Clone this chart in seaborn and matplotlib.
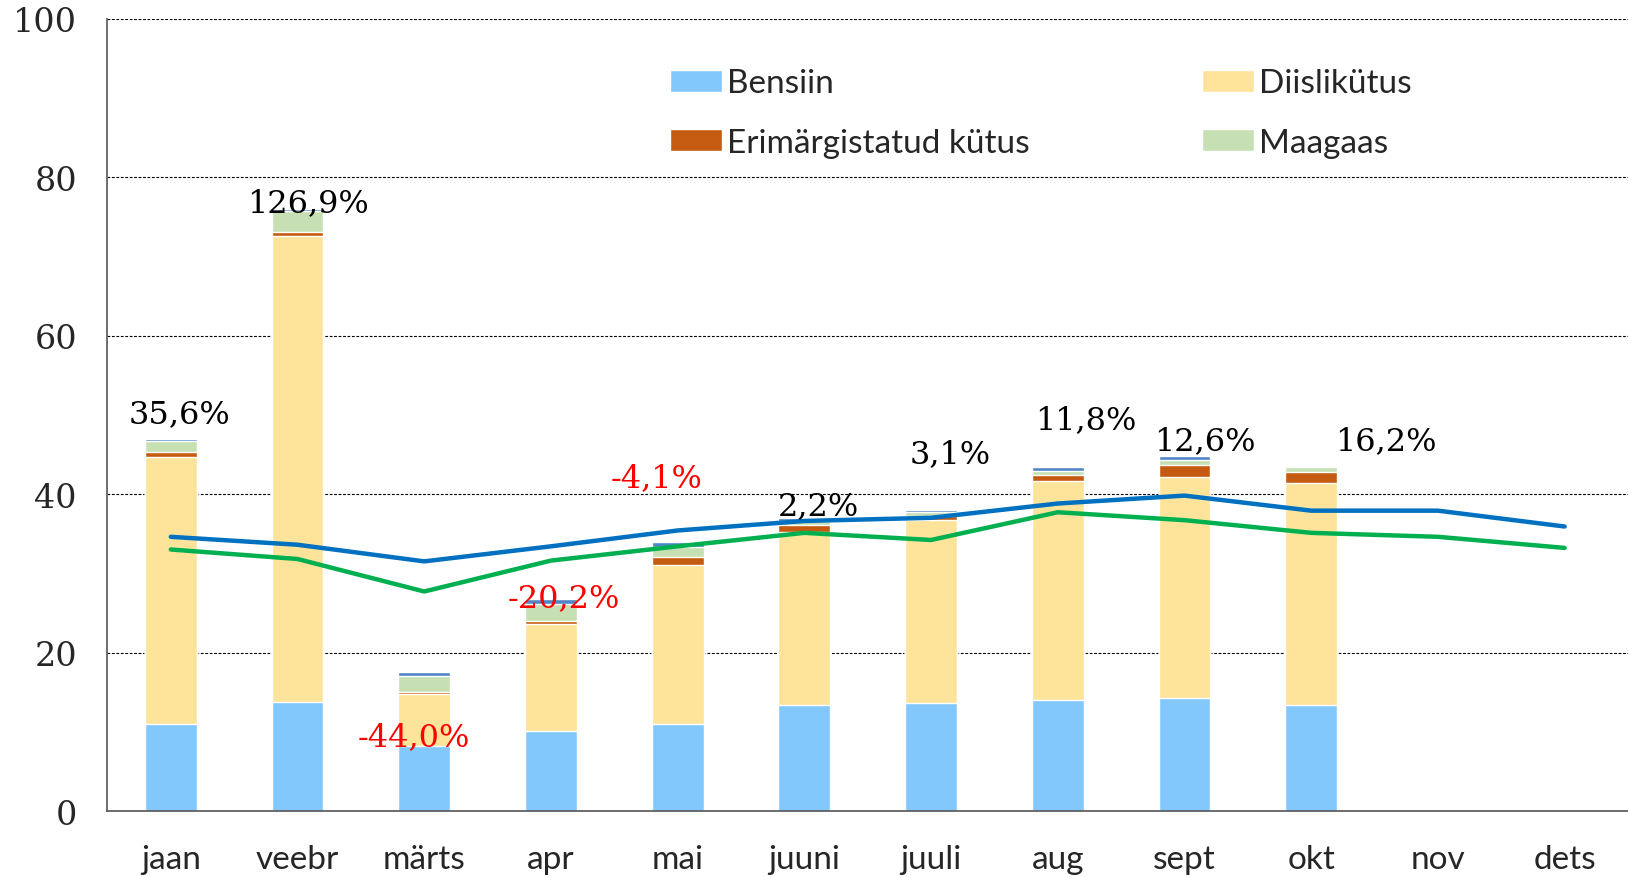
import numpy as np, pandas as pd
import matplotlib; matplotlib.use("Agg")
import matplotlib.pyplot as plt
import seaborn as sns

months   = ["jaan","veebr","märts","apr","mai","juuni","juuli","aug","sept","okt","nov","dets"]
bensiin  = [11.0, 13.8,  8.2, 10.1, 11.0, 13.4, 13.6, 14.0, 14.3, 13.4, np.nan, np.nan]
diisel   = [33.7, 58.7,  6.6, 13.5, 20.1, 21.8, 23.1, 27.6, 27.9, 28.0, np.nan, np.nan]
erim     = [ 0.6,  0.5,  0.2,  0.35, 0.9,  0.9,  0.5,  0.8,  1.5,  1.4, np.nan, np.nan]
maagaas  = [ 1.4,  2.7,  2.0,  2.2,  1.3,  0.5,  0.5,  0.55, 0.6,  0.6, np.nan, np.nan]
muu      = [ 0.3,  0.3,  0.6,  0.6,  0.6,  0.4,  0.3,  0.4,  0.55, 0.0, np.nan, np.nan]
line_blue  = [34.6, 33.6, 31.5, 33.4, 35.4, 36.6, 37.0, 38.8, 39.8, 37.9, 37.9, 35.9]
line_green = [33.0, 31.8, 27.7, 31.6, 33.4, 35.1, 34.2, 37.7, 36.7, 35.1, 34.6, 33.2]
pct_labels = ["35,6%","126,9%","-44,0%","-20,2%","-4,1%","2,2%","3,1%","11,8%","12,6%","16,2%"]
pct_values = [35.6, 126.9, -44.0, -20.2, -4.1, 2.2, 3.1, 11.8, 12.6, 16.2]

# where each % label sits (x offset from bar centre, y in axis units)
lab_pos = [(0.07,50.1),(0.08,76.8),(-0.08,9.4),(0.10,26.9),(-0.17,42.1),
           (0.11,38.5),(0.15,45.1),(0.22,49.4),(0.16,46.7),(0.59,46.7)]

series = [("Bensiin",bensiin,"#83C8FC"),("Diislikütus",diisel,"#FDE49A"),
          ("Erimärgistatud kütus",erim,"#C55A11"),("Maagaas",maagaas,"#C6E0B4"),
          ("muu",muu,"#4F86C6")]

df = pd.DataFrame({"month":months})
cum = np.zeros(len(months))
for name,vals,_ in series:
    cum = cum + np.array(vals,dtype=float)
    df[name] = cum.copy()

sns.set_style("white")
plt.rcParams["font.family"] = ["DejaVu Serif"]
fig = plt.figure(figsize=(16.28,8.79),dpi=100)
ax = fig.add_axes([0.066,0.0762,0.934,0.9016])

# stacked bars: draw cumulative totals from the top down
for name,_,col in reversed(series):
    sns.barplot(data=df,x="month",y=name,order=months,color=col,width=0.41,
                saturation=1,ax=ax,label=None if name=="muu" else name,zorder=2)

x = np.arange(len(months))
sns.lineplot(x=x,y=line_blue,color="#0070C0",lw=3.2,ax=ax,zorder=3)
sns.lineplot(x=x,y=line_green,color="#00B050",lw=3.2,ax=ax,zorder=3)

for i,(t,v) in enumerate(zip(pct_labels,pct_values)):
    dx,yy = lab_pos[i]
    ax.text(i+dx,yy,t,ha="center",va="center",fontsize=23,
            color="red" if v<0 else "black",zorder=4)

ax.set_xlim(-0.5,11.5); ax.set_ylim(0,100)
ax.set_yticks(range(0,101,20))
ax.set_xlabel(""); ax.set_ylabel("")
ax.yaxis.grid(True,linestyle=(0,(2.5,1.5)),color="black",lw=0.8)
ax.set_axisbelow(True)
for s in ["top","right"]: ax.spines[s].set_visible(False)
for s in ["left","bottom"]: ax.spines[s].set_color("#555555"); ax.spines[s].set_linewidth(1.2)
ax.set_xticks(np.arange(-0.5,12,1),minor=True)
ax.tick_params(axis="x",which="major",length=0,pad=24,labelsize=24)
ax.tick_params(axis="x",which="minor",length=10,color="#555555",width=1.2)
ax.tick_params(axis="y",length=8,color="#555555",width=1.2,labelsize=24,pad=14)
for lb in ax.get_xticklabels(): lb.set_fontfamily(["Lato","DejaVu Sans"])

h,l = ax.get_legend_handles_labels()
order = ["Bensiin","Erimärgistatud kütus","Diislikütus","Maagaas"]
hd = dict(zip(l,h))
ax.legend([hd[k] for k in order],order,ncol=2,frameon=False,loc="upper left",
          bbox_to_anchor=(0.370,0.937),prop={"family":["Lato","DejaVu Sans"],"size":24},
          borderpad=0,borderaxespad=0,handlelength=1.57,handleheight=0.63,
          handletextpad=0.15,columnspacing=5.15,labelspacing=0.88)

fig.savefig("out.png",dpi=100)
